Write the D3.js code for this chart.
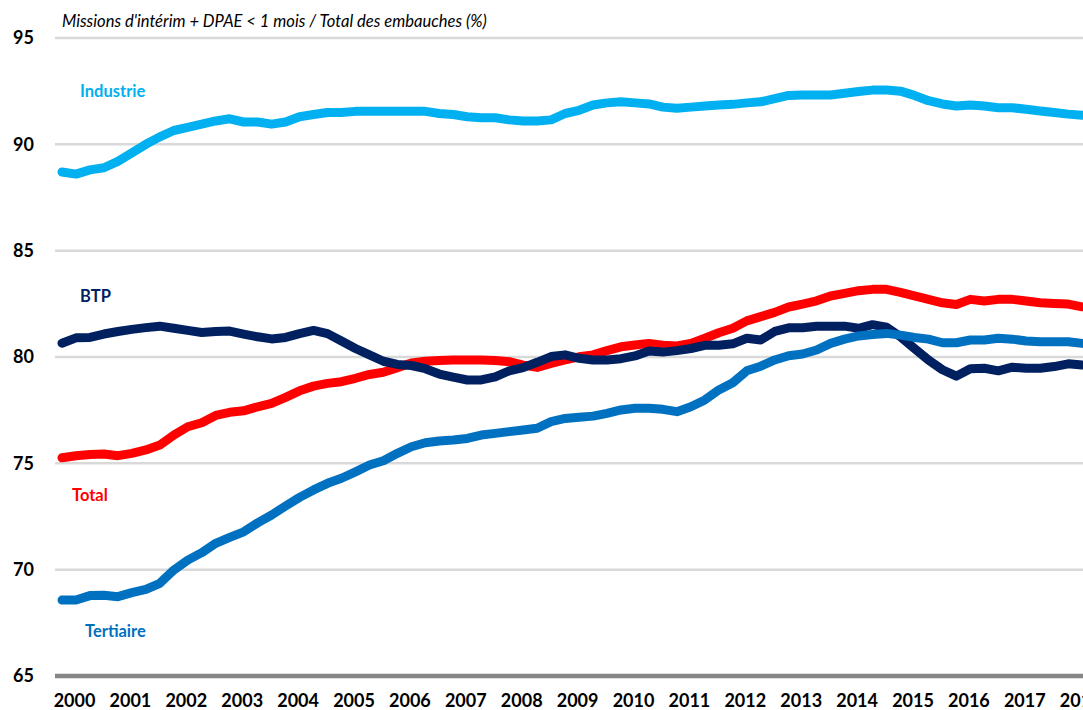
<!DOCTYPE html>
<html>
<head>
<meta charset="utf-8">
<title>Embauches courtes</title>
<style>
  html, body { margin: 0; padding: 0; background: #fff; overflow: hidden; }
  svg { display: block; font-family: Lato, "Open Sans", sans-serif; }
</style>
</head>
<body>
<div id="chart"></div>
<script src="https://cdn.jsdelivr.net/npm/d3@7"></script>
<script>
// quarterly series, 2000T1 -> 2018T2
const years = d3.range(2000, 2019)
const yTicks = [65, 70, 75, 80, 85, 90, 95]

const industrie = [88.7, 88.6, 88.8, 88.9, 89.2, 89.6, 90.0, 90.35, 90.65, 90.8,
  90.95, 91.1, 91.2, 91.05, 91.05, 90.95, 91.05, 91.3, 91.4, 91.5,
  91.5, 91.55, 91.55, 91.55, 91.55, 91.55, 91.55, 91.45, 91.4, 91.3,
  91.25, 91.25, 91.15, 91.1, 91.1, 91.15, 91.45, 91.6, 91.85, 91.95,
  92.0, 91.95, 91.9, 91.75, 91.7, 91.75, 91.8, 91.85, 91.88, 91.95,
  92.0, 92.15, 92.3, 92.32, 92.32, 92.32, 92.4, 92.48, 92.55, 92.55,
  92.5, 92.3, 92.05, 91.9, 91.8, 91.85, 91.8, 91.72, 91.72, 91.65,
  91.57, 91.5, 91.42, 91.37]

const total = [75.26, 75.36, 75.42, 75.44, 75.36, 75.47, 75.63, 75.86, 76.33, 76.72,
  76.91, 77.25, 77.4, 77.47, 77.66, 77.82, 78.1, 78.41, 78.63, 78.76,
  78.84, 79.0, 79.18, 79.28, 79.5, 79.72, 79.8, 79.84, 79.86, 79.86,
  79.86, 79.84, 79.78, 79.62, 79.51, 79.7, 79.86, 80.01, 80.1, 80.3,
  80.48, 80.56, 80.64, 80.55, 80.52, 80.64, 80.88, 81.14, 81.35, 81.7,
  81.9, 82.1, 82.35, 82.49, 82.64, 82.87, 82.99, 83.12, 83.18, 83.18,
  83.04, 82.87, 82.71, 82.55, 82.47, 82.71, 82.63, 82.71, 82.71, 82.63,
  82.55, 82.52, 82.49, 82.36]

const btp = [80.65, 80.9, 80.92, 81.08, 81.2, 81.3, 81.38, 81.45, 81.35, 81.25,
  81.15, 81.2, 81.22, 81.08, 80.95, 80.85, 80.92, 81.1, 81.25, 81.1,
  80.75, 80.4, 80.1, 79.8, 79.65, 79.6, 79.45, 79.2, 79.05, 78.92,
  78.92, 79.07, 79.35, 79.5, 79.75, 80.02, 80.1, 79.94, 79.86, 79.86,
  79.92, 80.05, 80.28, 80.23, 80.3, 80.4, 80.55, 80.55, 80.62, 80.88,
  80.8, 81.2, 81.37, 81.38, 81.45, 81.45, 81.45, 81.35, 81.52, 81.4,
  80.95, 80.4, 79.86, 79.4, 79.1, 79.45, 79.47, 79.35, 79.52, 79.47,
  79.47, 79.55, 79.68, 79.62]

const tertiaire = [68.57, 68.57, 68.78, 68.8, 68.73, 68.92, 69.07, 69.36, 69.98, 70.45,
  70.8, 71.24, 71.52, 71.78, 72.2, 72.57, 72.99, 73.4, 73.75, 74.06,
  74.3, 74.6, 74.92, 75.12, 75.47, 75.78, 75.97, 76.05, 76.1, 76.17,
  76.33, 76.41, 76.49, 76.57, 76.65, 76.96, 77.11, 77.17, 77.22, 77.35,
  77.51, 77.59, 77.59, 77.54, 77.43, 77.66, 77.98, 78.45, 78.79, 79.35,
  79.57, 79.86, 80.06, 80.14, 80.33, 80.64, 80.84, 80.99, 81.06, 81.11,
  81.03, 80.92, 80.84, 80.67, 80.67, 80.8, 80.8, 80.88, 80.84, 80.75,
  80.72, 80.72, 80.72, 80.64]

const series = [
  { name: 'Industrie', values: industrie, color: '#00B0F0', lx: 80, ly: 97 },
  { name: 'Total', values: total, color: '#FF0000', lx: 72, ly: 501 },
  { name: 'BTP', values: btp, color: '#002060', lx: 80, ly: 302 },
  { name: 'Tertiaire', values: tertiaire, color: '#0070C0', lx: 85, ly: 637 }
]

const svgWidth = 1083
const svgHeight = 710
const margin = { left: 55, top: 38, bottom: 676 }
const yearWidth = 55.9

const svg = d3.select('#chart')
  .append('svg')
  .attr('width', svgWidth)
  .attr('height', svgHeight)

// x : decimal years, plot continues past the right edge
const x = d3.scaleLinear()
  .domain([2000, 2018.5])
  .range([margin.left, margin.left + 18.5 * yearWidth])

const y = d3.scaleLinear()
  .domain([65, 95])
  .range([margin.bottom, margin.top])

// gridlines
svg.append('g')
  .selectAll('line')
  .data(yTicks.filter(d => d > 65))
  .join('line')
  .attr('x1', margin.left)
  .attr('x2', svgWidth)
  .attr('y1', d => y(d))
  .attr('y2', d => y(d))
  .attr('stroke', '#D9D9D9')
  .attr('stroke-width', 2.5)

// bottom axis line
svg.append('line')
  .attr('x1', margin.left)
  .attr('x2', svgWidth)
  .attr('y1', y(65))
  .attr('y2', y(65))
  .attr('stroke', '#868686')
  .attr('stroke-width', 4.5)

// y labels
const yAxis = svg.append('g')
  .attr('transform', 'translate(34,0)')
  .call(d3.axisLeft(y).tickValues(yTicks).tickSize(0).tickPadding(0))
yAxis.select('.domain').remove()
yAxis.selectAll('text')
  .attr('font-family', 'Lato, sans-serif')
  .attr('font-size', 18)
  .attr('font-weight', 'bold')
  .attr('fill', '#000')

// x labels (Excel puts them a bit left of the year's middle)
const xAxis = svg.append('g')
  .attr('transform', `translate(0,${y(65)})`)
  .call(d3.axisBottom(x)
    .tickValues(years.map(d => d + 0.34))
    .tickFormat(d => String(Math.floor(d)))
    .tickSize(0)
    .tickPadding(18))
xAxis.select('.domain').remove()
xAxis.selectAll('text')
  .attr('font-family', 'Lato, sans-serif')
  .attr('font-size', 18)
  .attr('font-weight', 'bold')
  .attr('fill', '#000')

// lines
const line = d3.line()
  .x((d, i) => x(2000 + (i + 0.5) / 4))
  .y(d => y(d))

svg.append('g')
  .selectAll('path')
  .data(series)
  .join('path')
  .attr('d', d => line(d.values))
  .attr('fill', 'none')
  .attr('stroke', d => d.color)
  .attr('stroke-width', 9)
  .attr('stroke-linejoin', 'round')
  .attr('stroke-linecap', 'round')

// series labels
svg.append('g')
  .selectAll('text')
  .data(series)
  .join('text')
  .attr('x', d => d.lx)
  .attr('y', d => d.ly)
  .attr('fill', d => d.color)
  .attr('font-size', 16.5)
  .attr('font-weight', 'bold')
  .text(d => d.name)

// subtitle
const title = svg.append('text')
  .attr('x', 62)
  .attr('y', 27)
  .attr('font-size', 15)
  .attr('font-style', 'italic')
  .attr('fill', '#000')
  .text("Missions d'intérim + DPAE < 1 mois / Total des embauches (%)")

const w = title.node().getComputedTextLength()
title.attr('font-size', 15 * 425 / w)
</script>
</body>
</html>
